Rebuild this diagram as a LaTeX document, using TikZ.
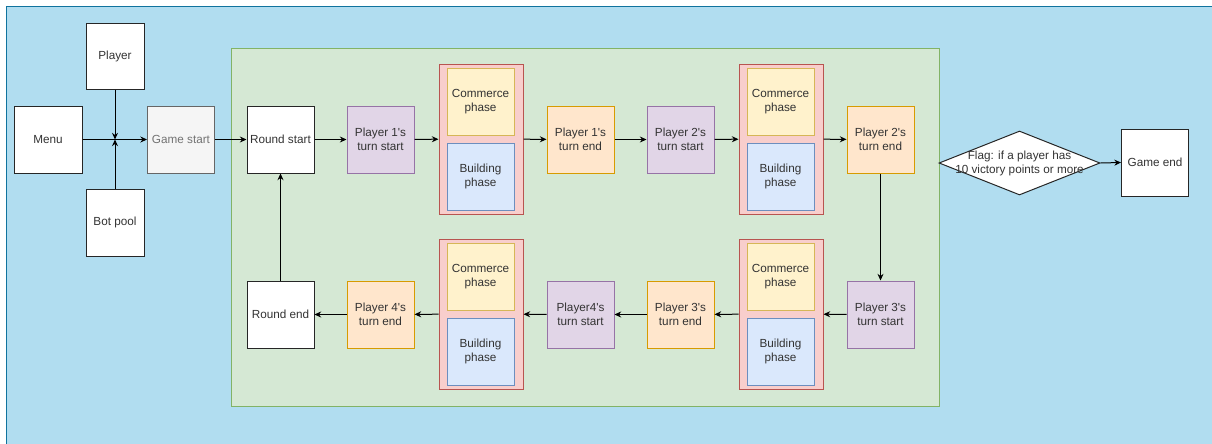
\documentclass[tikz,border=0pt]{standalone}
\usepackage{fontspec}
\setmainfont{Liberation Sans}
\newfontfamily\dfont{Liberation Sans}
\usetikzlibrary{shapes.geometric,arrows.meta}
\definecolor{bgblue}{HTML}{B1DDF0}
\definecolor{bgbluestroke}{HTML}{10739E}
\definecolor{greenfill}{HTML}{D5E8D4}
\definecolor{greendraw}{HTML}{82B366}
\definecolor{redfill}{HTML}{F8CECC}
\definecolor{reddraw}{HTML}{B85450}
\definecolor{comfill}{HTML}{FFF2CC}
\definecolor{comdraw}{HTML}{D6B656}
\definecolor{bldfill}{HTML}{DAE8FC}
\definecolor{blddraw}{HTML}{6C8EBF}
\definecolor{psfill}{HTML}{E1D5E7}
\definecolor{psdraw}{HTML}{9673A6}
\definecolor{pefill}{HTML}{FFE6CC}
\definecolor{pedraw}{HTML}{D79B00}
\definecolor{gsfill}{HTML}{F5F5F5}
\definecolor{gsdraw}{HTML}{666666}
\definecolor{txt}{HTML}{333333}
\tikzset{
  base/.style={rectangle, draw, line width=0.75pt, inner sep=1pt, align=center, text=txt,
    font=\dfont\fontsize{8.8}{10.5}\selectfont, minimum width=50.25pt, minimum height=50.25pt},
  whitebox/.style={base, fill=white, draw=black!85},
  gsbox/.style={base, fill=gsfill, draw=gsdraw, text=black!55},
  startbox/.style={base, fill=psfill, draw=psdraw},
  endbox/.style={base, fill=pefill, draw=pedraw},
  combox/.style={base, fill=comfill, draw=comdraw},
  bldbox/.style={base, fill=bldfill, draw=blddraw},
  phasebox/.style={rectangle, draw=reddraw, fill=redfill, line width=0.75pt,
    minimum width=63pt, minimum height=112.5pt, inner sep=0pt},
  flow/.style={-{Stealth[length=5pt,width=4.5pt]}, line width=0.75pt, draw=black},
}
\begin{document}
\begin{tikzpicture}[x=0.75pt,y=-0.75pt]
\useasboundingbox (0,0) rectangle (1212,443);
\clip (0,0) rectangle (1212,443);
\fill[white] (0,0) rectangle (1212,443);
% background
\fill[bgblue] (6,6) rectangle (1240,470);
\draw[bgbluestroke, line width=0.75pt] (6,470) -- (6,6) -- (1240,6);
\draw[greendraw, fill=greenfill, line width=0.75pt] (231,48) rectangle (939,406);

% left part
\node[whitebox, minimum width=51pt] (menu) at (48,139.5) {Menu};
\node[whitebox, minimum width=43.5pt, minimum height=49.5pt] (player) at (115,56) {Player};
\node[whitebox, minimum width=43.5pt] (bot) at (115,222.5) {Bot pool};
\node[gsbox] (gstart) at (181,139.5) {Game start};
\coordinate (j) at (115,139.5);

% top row
\node[whitebox] (rstart) at (280.5,139.5) {Round start};
\node[startbox] (p1s) at (380.5,139.5) {Player 1's\\turn start};
\node[phasebox] (red1) at (481,139) {};
\node[combox] (com1) at (480.5,101.5) {Commerce\\phase};
\node[bldbox] (bld1) at (480.5,176.5) {Building\\phase};
\node[endbox] (p1e) at (580.5,139.5) {Player 1's\\turn end};
\node[startbox] (p2s) at (680.5,139.5) {Player 2's\\turn start};
\node[phasebox] (red2) at (781,139) {};
\node[combox] (com2) at (780.5,101.5) {Commerce\\phase};
\node[bldbox] (bld2) at (780.5,176.5) {Building\\phase};
\node[endbox] (p2e) at (880.5,139.5) {Player 2's\\turn end};

% bottom row
\node[startbox] (p3s) at (880.5,314.5) {Player 3's\\turn start};
\node[phasebox] (red3) at (781,314) {};
\node[combox] (com3) at (780.5,276.5) {Commerce\\phase};
\node[bldbox] (bld3) at (780.5,351.5) {Building\\phase};
\node[endbox] (p3e) at (680.5,314.5) {Player 3's\\turn end};
\node[startbox] (p4s) at (580.5,314.5) {Player4's\\turn start};
\node[phasebox] (red4) at (481,314) {};
\node[combox] (com4) at (480.5,276.5) {Commerce\\phase};
\node[bldbox] (bld4) at (480.5,351.5) {Building\\phase};
\node[endbox] (p4e) at (380.5,314.5) {Player 4's\\turn end};
\node[whitebox] (rend) at (280.5,314.5) {Round end};

% right part
\node[diamond, draw=black!85, fill=white, line width=0.75pt, minimum width=120.75pt,
  minimum height=48pt, inner sep=0pt] (flag) at (1019.5,163) {};
\node[align=center, text=txt, font=\dfont\fontsize{8.8}{10.5}\selectfont, inner sep=0pt]
  (flagtext) at (flag.center) {Flag: if a player has\\10 victory points or more};
\node[whitebox] (gend) at (1155,162.5) {Game end};

% connectors
\draw[flow] (menu.east) -- (gstart.west);
\draw[flow] (player.south) -- (j);
\draw[flow] (bot.north) -- (j);
\draw[flow] (gstart) -- (rstart);
\draw[flow] (rstart) -- (p1s);
\draw[flow] (p1s) -- (red1);
\draw[flow] (red1) -- (p1e);
\draw[flow] (p1e) -- (p2s);
\draw[flow] (p2s) -- (red2);
\draw[flow] (red2) -- (p2e);
\draw[flow] (p2e.south) -- (p3s.north);
\draw[flow] (p3s) -- (red3);
\draw[flow] (red3) -- (p3e);
\draw[flow] (p3e) -- (p4s);
\draw[flow] (p4s) -- (red4);
\draw[flow] (red4) -- (p4e);
\draw[flow] (p4e) -- (rend);
\draw[flow] (rend.north) -- (rstart.south);
\draw[flow] (flag.east) -- (gend.west);
\end{tikzpicture}
\end{document}
